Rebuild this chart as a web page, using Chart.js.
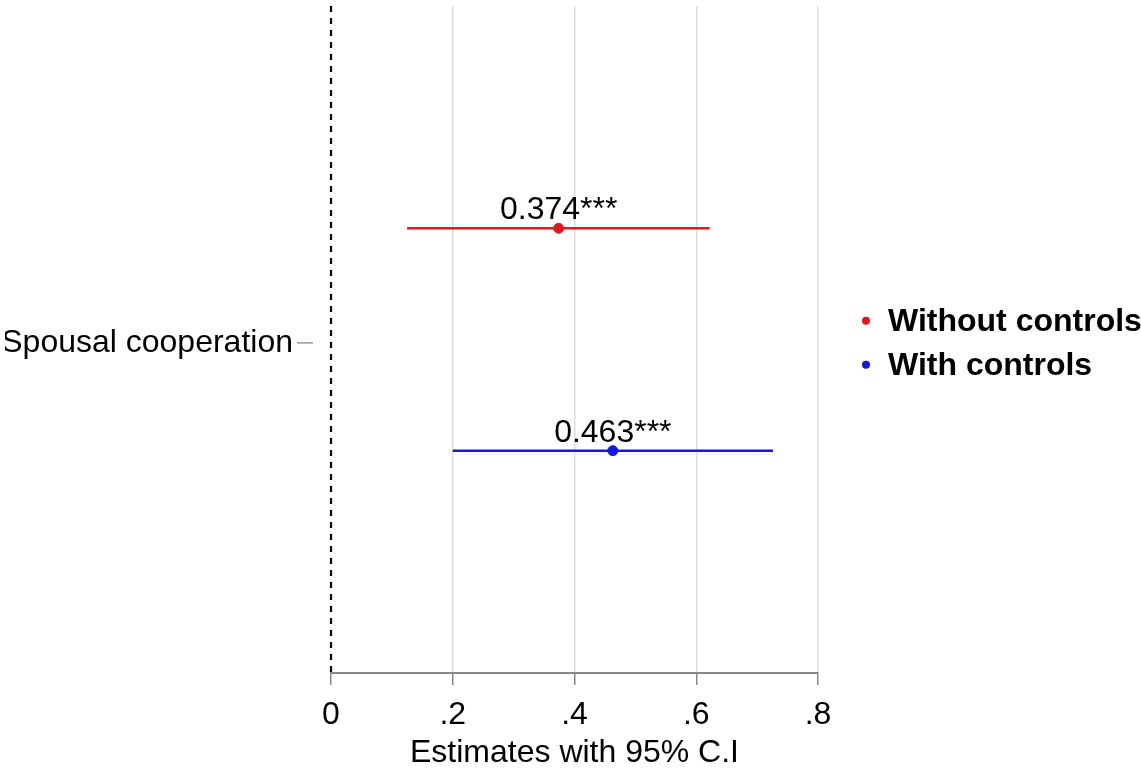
<!DOCTYPE html>
<html lang="en">
<head>
  <meta charset="UTF-8" />
  <title>Spousal cooperation estimates</title>
  <script src="https://cdn.jsdelivr.net/npm/chart.js"></script>
  <style>
    body { margin: 0; background: white; }
    #wrap { width: 1141px; height: 769px; }
  </style>
</head>
<body>
  <div id="wrap"><canvas id="coefChart" width="1141" height="769"></canvas></div>

  <script>
    // data
    const categories = ['Spousal cooperation'];
    const seriesNames = ['Without controls', 'With controls'];
    const seriesColors = ['#e5161d', '#1616e0'];
    const estimates = [0.374, 0.463];
    const ciLow = [0.125, 0.200];
    const ciHigh = [0.622, 0.726];
    const estLabels = ['0.374***', '0.463***'];
    const rowOffsets = [0.34, -0.32];   // position of each model around the category line
    const xTicks = [0, 0.2, 0.4, 0.6, 0.8];
    const xTickLabels = ['0', '.2', '.4', '.6', '.8'];

    const FONT = '"Liberation Sans", Arial, sans-serif';
    const FS = 32;
    Chart.defaults.font.family = FONT;

    const datasets = [];
    seriesNames.forEach((name, i) => {
      // confidence interval
      datasets.push({
        type: 'line',
        label: name + ' CI',
        data: [{ x: ciLow[i], y: rowOffsets[i] }, { x: ciHigh[i], y: rowOffsets[i] }],
        borderColor: seriesColors[i],
        borderWidth: 2.5,
        pointRadius: 0,
        fill: false
      });
      // point estimate
      datasets.push({
        type: 'scatter',
        label: name,
        data: [{ x: estimates[i], y: rowOffsets[i] }],
        backgroundColor: seriesColors[i],
        borderColor: seriesColors[i],
        pointRadius: 5,
        estLabel: estLabels[i]
      });
    });

    const extras = {
      id: 'extras',
      beforeDatasetsDraw(chart) {
        const { ctx, chartArea, scales: { x, y } } = chart;
        ctx.save();
        // reference line at zero
        const x0 = x.getPixelForValue(0);
        ctx.strokeStyle = '#000';
        ctx.lineWidth = 2.2;
        ctx.setLineDash([6, 6]);
        ctx.beginPath();
        ctx.moveTo(x0, chartArea.top);
        ctx.lineTo(x0, chartArea.bottom);
        ctx.stroke();
        ctx.setLineDash([]);
        // y tick for category
        const yc = y.getPixelForValue(0);
        ctx.strokeStyle = '#999';
        ctx.lineWidth = 1.5;
        ctx.beginPath();
        ctx.moveTo(chartArea.left - 34, yc);
        ctx.lineTo(chartArea.left - 18, yc);
        ctx.stroke();
        ctx.restore();
      },
      afterDatasetsDraw(chart) {
        const { ctx, chartArea, scales: { x, y } } = chart;
        ctx.save();
        ctx.fillStyle = '#000';
        ctx.font = FS + 'px ' + FONT;
        ctx.textAlign = 'center';
        ctx.textBaseline = 'alphabetic';
        chart.data.datasets.forEach(ds => {
          if (!ds.estLabel) return;
          const p = ds.data[0];
          ctx.fillText(ds.estLabel, x.getPixelForValue(p.x), y.getPixelForValue(p.y) - 9);
        });
        // legend
        const yc = y.getPixelForValue(0);
        ctx.font = 'bold ' + FS + 'px ' + FONT;
        ctx.textAlign = 'left';
        ctx.textBaseline = 'middle';
        seriesNames.forEach((name, i) => {
          const ly = yc - 22 + i * 44;
          ctx.fillStyle = seriesColors[i];
          ctx.beginPath();
          ctx.arc(chartArea.right + 48, ly, 4, 0, Math.PI * 2);
          ctx.fill();
          ctx.fillStyle = '#000';
          ctx.fillText(name, chartArea.right + 70, ly + 1);
        });
        ctx.restore();
      }
    };

    new Chart(document.getElementById('coefChart'), {
      type: 'scatter',
      data: { datasets },
      options: {
        responsive: false,
        animation: false,
        layout: { padding: { left: 5, right: 323, top: 5, bottom: -3 } },
        plugins: { legend: { display: false }, tooltip: { enabled: false } },
        scales: {
          x: {
            type: 'linear',
            min: 0,
            max: 0.8,
            afterBuildTicks: s => { s.ticks = xTicks.map(v => ({ value: v })); },
            afterFit: s => { s.height = 99; },
            ticks: {
              color: '#000',
              font: { size: FS },
              padding: 11,
              callback: (v, i) => xTickLabels[i]
            },
            grid: {
              color: c => c.tick && c.tick.value === 0 ? 'rgba(0,0,0,0)' : '#dcdcdc',
              lineWidth: 1.5,
              tickColor: '#888',
              tickLength: 12
            },
            border: { color: '#888', width: 2 },
            title: {
              display: true,
              text: 'Estimates with 95% C.I',
              color: '#000',
              font: { size: FS },
              padding: { top: 0, bottom: 0 }
            }
          },
          y: {
            type: 'linear',
            min: -0.98,
            max: 1,
            afterBuildTicks: s => { s.ticks = categories.map((c, i) => ({ value: i })); },
            afterFit: s => { s.width = 326; s.paddingTop = 0; s.paddingBottom = 0; },
            ticks: {
              color: '#000',
              font: { size: FS },
              padding: 38,
              callback: (v, i) => categories[i]
            },
            grid: { display: false, drawTicks: false },
            border: { display: false }
          }
        }
      },
      plugins: [extras]
    });
  </script>
</body>
</html>
